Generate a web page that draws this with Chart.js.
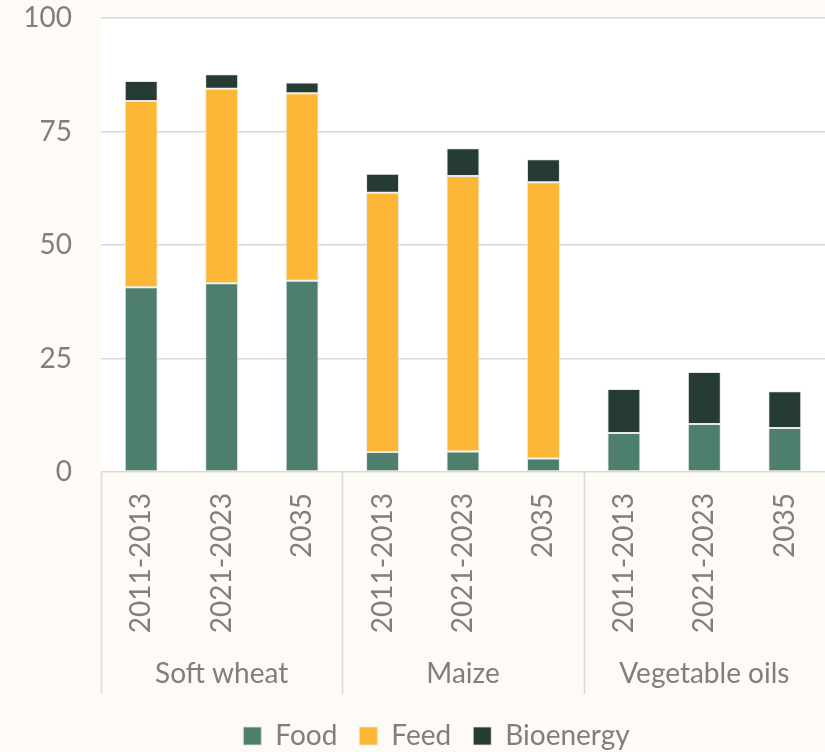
<!DOCTYPE html>
<html>
<head>
<meta charset="utf-8">
<script src="https://cdn.jsdelivr.net/npm/chart.js@4"></script>
<style>
  html, body { margin: 0; padding: 0; background: #FEFAF5; }
  #wrap { width: 825px; height: 752px; position: relative; }
</style>
</head>
<body>
<div id="wrap"><canvas id="myChart" width="825" height="752"></canvas></div>
<script>
// Chart values
const periods = ['2011-2013', '2021-2023', '2035', '2011-2013', '2021-2023', '2035', '2011-2013', '2021-2023', '2035']
const groups = ['Soft wheat', 'Maize', 'Vegetable oils']
const food = [40.7, 41.6, 42.1, 4.4, 4.5, 3.0, 8.6, 10.6, 9.7]
const feed = [41.0, 42.8, 41.3, 57.1, 60.7, 60.8, 0, 0, 0]
const bioenergy = [4.4, 3.2, 2.4, 4.2, 6.1, 5.1, 9.7, 11.4, 8.1]
const yTicks = [0, 25, 50, 75, 100]

const textColor = '#7F7F7F'
const gridColor = '#D9D9D9'
const fontFamily = 'Lato, "Open Sans", sans-serif'

// Cream page, white plot area, group separators under the axis
const backdrop = {
  id: 'backdrop',
  afterUpdate(chart) {
    // nudge the legend to where it sits in the original
    const lg = chart.legend
    if (!lg) return
    lg.left += 14
    lg.right += 14
    lg.top += 7
    lg.bottom += 7
  },
  beforeDraw(chart) {
    const { ctx, chartArea } = chart
    ctx.save()
    ctx.fillStyle = '#FEFAF5'
    ctx.fillRect(0, 0, chart.width, chart.height)
    ctx.fillStyle = '#FFFFFF'
    ctx.fillRect(chartArea.left, chartArea.top, chartArea.right - chartArea.left, chartArea.bottom - chartArea.top)
    ctx.restore()
  },
  afterDraw(chart) {
    const { ctx, chartArea } = chart
    const x = chart.scales.x
    const g = chart.scales.group
    const step = x.getPixelForValue(1) - x.getPixelForValue(0)
    ctx.save()
    ctx.strokeStyle = gridColor
    ctx.lineWidth = 1.5
    for (let i = 0; i < periods.length; i += 3) {
      const px = Math.round(x.getPixelForValue(i) - step / 2) + 0.5
      ctx.beginPath()
      ctx.moveTo(px, chartArea.bottom)
      ctx.lineTo(px, g.bottom + 1)
      ctx.stroke()
    }
    ctx.restore()
  },
}

// keep the plot running to the right edge of the canvas
function noSidePadding(scale) {
  scale.paddingLeft = 0
  scale.paddingRight = 0
}

const ctx = document.getElementById('myChart')

new Chart(ctx, {
  type: 'bar',
  data: {
    labels: periods,
    datasets: [
      { label: 'Food', data: food, backgroundColor: '#4E7F6C' },
      { label: 'Feed', data: feed, backgroundColor: '#FBB735' },
      { label: 'Bioenergy', data: bioenergy, backgroundColor: '#253B34' },
    ].map((d) => ({
      ...d,
      borderColor: 'rgba(225, 228, 226, 0.8)',
      borderWidth: 1,
      borderSkipped: false,
      barPercentage: 0.41,
      categoryPercentage: 1,
    })),
  },
  options: {
    responsive: false,
    animation: false,
    devicePixelRatio: 1,
    layout: { padding: { top: 0, left: 20, right: 0, bottom: -1 } },
    plugins: {
      tooltip: { enabled: false },
      legend: {
        position: 'bottom',
        labels: {
          color: textColor,
          font: { family: fontFamily, size: 28 },
          boxWidth: 18,
          boxHeight: 18,
          padding: 22,
        },
      },
    },
    scales: {
      x: {
        stacked: true,
        grid: { display: false, drawTicks: false },
        border: { display: false },
        ticks: {
          color: textColor,
          font: { family: fontFamily, size: 28 },
          minRotation: 90,
          maxRotation: 90,
          padding: 21,
          autoSkip: false,
        },
        afterFit(scale) {
          scale.height = 175
          noSidePadding(scale)
        },
      },
      group: {
        type: 'category',
        labels: groups,
        position: 'bottom',
        offset: true,
        grid: { display: false, drawTicks: false },
        border: { display: false },
        ticks: {
          color: textColor,
          font: { family: fontFamily, size: 28 },
          padding: 10,
          maxRotation: 0,
        },
        afterFit(scale) {
          scale.height = 46
          noSidePadding(scale)
        },
      },
      y: {
        stacked: true,
        min: 0,
        max: 100,
        afterBuildTicks(scale) { scale.ticks = yTicks.map((v) => ({ value: v })) },
        grid: { color: gridColor, lineWidth: 1.5, drawTicks: false },
        border: { display: false },
        ticks: {
          color: textColor,
          font: { family: fontFamily, size: 28 },
          padding: 29,
        },
        afterFit(scale) {
          scale.width = 81
          scale.paddingTop = 18
          scale.paddingBottom = 0
        },
      },
    },
  },
  plugins: [backdrop],
})
</script>
</body>
</html>
